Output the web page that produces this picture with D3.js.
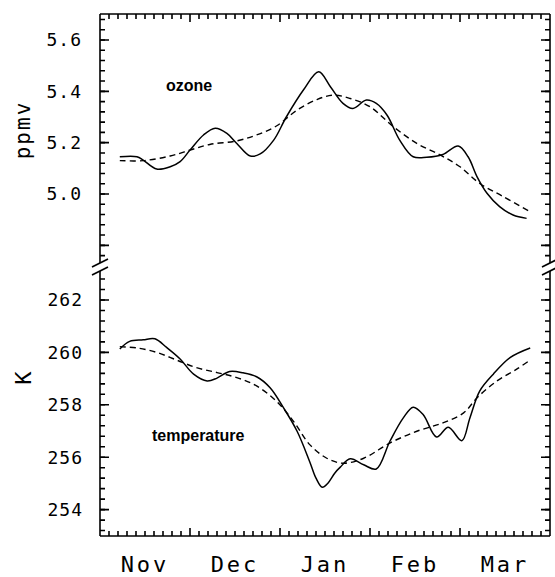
<!DOCTYPE html>
<html>
<head>
<meta charset="utf-8">
<script src="https://cdn.jsdelivr.net/npm/d3@7"></script>
<style>
  html, body { margin: 0; padding: 0; background: #fff; }
  svg { display: block; }
</style>
</head>
<body>
<script>
// ---------------- data ----------------
const months = ["Nov", "Dec", "Jan", "Feb", "Mar"];
const ozoneTicks = [5.0, 5.2, 5.4, 5.6];
const tempTicks = [254, 256, 258, 260, 262];

// x positions in month units (0 = 1 Nov, 5 = end of Mar)
const ozoneSolidT = [0.22,0.41,0.48,0.63,0.78,0.89,1.0,1.15,1.28,1.41,1.52,1.67,1.78,1.93,2.07,2.26,2.43,2.56,2.70,2.81,2.96,3.07,3.19,3.33,3.48,3.63,3.81,3.98,4.09,4.19,4.30,4.44,4.59,4.74];
const ozoneSolid  = [5.145,5.145,5.132,5.097,5.106,5.126,5.171,5.23,5.256,5.236,5.197,5.148,5.156,5.21,5.30,5.405,5.476,5.418,5.353,5.333,5.366,5.353,5.307,5.21,5.145,5.143,5.154,5.187,5.145,5.067,5.003,4.951,4.918,4.905];

const ozoneFitT = [0.22,0.48,0.78,1.0,1.22,1.52,1.74,1.96,2.19,2.41,2.59,2.78,3.0,3.26,3.52,3.78,4.0,4.22,4.48,4.78];
const ozoneFit  = [5.13,5.13,5.148,5.171,5.193,5.207,5.23,5.265,5.327,5.368,5.385,5.372,5.34,5.262,5.197,5.152,5.106,5.041,4.99,4.931];

const tempSolidT = [0.22,0.33,0.48,0.61,0.74,0.89,1.04,1.19,1.30,1.44,1.59,1.74,1.89,2.04,2.19,2.33,2.40,2.47,2.53,2.61,2.67,2.78,2.93,3.07,3.22,3.37,3.48,3.59,3.74,3.87,4.02,4.11,4.22,4.37,4.56,4.78];
const tempSolid  = [260.13,260.42,260.48,260.52,260.19,259.75,259.17,258.91,259.02,259.27,259.22,259.07,258.65,257.88,256.99,255.83,255.2,254.85,255.0,255.4,255.62,255.94,255.71,255.55,256.6,257.5,257.91,257.63,256.77,257.14,256.63,257.5,258.53,259.17,259.81,260.17];

const tempFitT = [0.22,0.41,0.63,0.85,1.07,1.30,1.52,1.74,1.96,2.15,2.33,2.52,2.70,2.93,3.22,3.52,3.81,4.04,4.19,4.41,4.63,4.78];
const tempFit  = [260.22,260.17,260.0,259.71,259.42,259.23,259.04,258.72,258.14,257.37,256.48,255.96,255.77,255.96,256.54,256.99,257.31,257.69,258.27,258.91,259.36,259.71];

// ---------------- layout ----------------
const W = 555, H = 577;
const L = 100, R = 550, T = 14, B = 536;
const breakTop = 263, breakBot = 271;

const svg = d3.select("body").append("svg").attr("width", W).attr("height", H);

const x = d3.scaleLinear().domain([0, 5]).range([L, R]);
const yO = d3.scaleLinear().domain([5.0, 5.6]).range([194, 40]);
const yT = d3.scaleLinear().domain([254, 262]).range([509.6, 300]);

const monoFont = "'DejaVu Sans Mono', 'Liberation Mono', monospace";
const sansFont = "'Liberation Sans', Arial, Helvetica, sans-serif";

// frame lines (with break gap on the sides)
const frame = svg.append("g").attr("stroke", "#000").attr("stroke-width", 1.6).attr("fill", "none");
frame.append("line").attr("x1", L).attr("x2", R).attr("y1", T).attr("y2", T);
frame.append("line").attr("x1", L).attr("x2", R).attr("y1", B).attr("y2", B);
frame.append("line").attr("x1", L).attr("x2", L).attr("y1", T).attr("y2", breakTop);
frame.append("line").attr("x1", L).attr("x2", L).attr("y1", breakBot).attr("y2", B);
frame.append("line").attr("x1", R).attr("x2", R).attr("y1", T).attr("y2", breakTop);
frame.append("line").attr("x1", R).attr("x2", R).attr("y1", breakBot).attr("y2", B);
// break slashes
[L, R].forEach(cx => {
  [breakTop, breakBot].forEach(cy => {
    frame.append("line")
      .attr("x1", cx - 8).attr("y1", cy + 4)
      .attr("x2", cx + 8).attr("y2", cy - 4);
  });
});

// ---------------- ticks ----------------
const tickG = svg.append("g").attr("stroke", "#000").attr("stroke-width", 1.6).attr("fill", "none");

// x: minor every 0.1 month, major at month boundaries
const xMinor = d3.range(1, 50).filter(i => i % 10 !== 0).map(i => i / 10);
const xMajor = [1, 2, 3, 4];

function xTickPath(vals, len) {
  const d = vals.map(v => {
    const px = x(v);
    return `M${px},${B}V${B - len}M${px},${T}V${T + len}`;
  }).join("");
  tickG.append("path").attr("d", d);
}
xTickPath(xMinor, 5);
xTickPath(xMajor, 8);

// y: ozone minor every 0.04, temperature minor every 0.4
const ozMinor = d3.range(119, 143).map(i => +(i * 0.04).toFixed(2))
  .filter(v => yO(v) > T + 2 && yO(v) < breakTop - 6);
const ozMajor = [4.8, 5.0, 5.2, 5.4, 5.6];
const tMinor = d3.range(633, 660).map(i => +(i * 0.4).toFixed(1))
  .filter(v => yT(v) < B - 2 && yT(v) > breakBot + 6);
const tMajor = [254, 256, 258, 260, 262];

function yTickPath(scale, vals, len) {
  const d = vals.map(v => {
    const py = scale(v);
    return `M${L},${py}H${L + len}M${R},${py}H${R - len}`;
  }).join("");
  tickG.append("path").attr("d", d);
}
yTickPath(yO, ozMinor, 5);
yTickPath(yO, ozMajor, 9);
yTickPath(yT, tMinor, 5);
yTickPath(yT, tMajor, 9);

// y tick labels
svg.append("g").selectAll("text").data(ozoneTicks).join("text")
  .attr("x", 82).attr("y", d => yO(d)).attr("dy", "0.36em")
  .attr("text-anchor", "end")
  .attr("font-family", monoFont).attr("font-size", 18).attr("letter-spacing", 1)
  .text(d => d3.format(".1f")(d));
svg.append("g").selectAll("text").data(tempTicks).join("text")
  .attr("x", 83).attr("y", d => yT(d)).attr("dy", "0.36em")
  .attr("text-anchor", "end")
  .attr("font-family", monoFont).attr("font-size", 18).attr("letter-spacing", 1)
  .text(d => d3.format("d")(d));

// month labels centred in each month
svg.append("g").selectAll("text").data(months).join("text")
  .attr("x", (d, i) => x(i + 0.5))
  .attr("y", 572)
  .attr("text-anchor", "middle")
  .attr("font-family", monoFont)
  .attr("font-size", 22)
  .attr("letter-spacing", 3)
  .text(d => d);

// axis titles
svg.append("text")
  .attr("transform", "translate(30,130) rotate(-90)")
  .attr("text-anchor", "middle")
  .attr("font-family", monoFont).attr("font-size", 21).attr("letter-spacing", 2)
  .text("ppmv");
svg.append("text")
  .attr("transform", "translate(31,378) rotate(-90)")
  .attr("text-anchor", "middle")
  .attr("font-family", monoFont).attr("font-size", 22)
  .text("K");

// ---------------- curves ----------------
const lineO = d3.line().x(d => x(d[0])).y(d => yO(d[1])).curve(d3.curveCatmullRom.alpha(0.5));
const lineT = d3.line().x(d => x(d[0])).y(d => yT(d[1])).curve(d3.curveCatmullRom.alpha(0.5));

const curves = svg.append("g").attr("fill", "none").attr("stroke", "#000");
curves.append("path").datum(d3.zip(ozoneSolidT, ozoneSolid)).attr("d", lineO).attr("stroke-width", 1.5);
curves.append("path").datum(d3.zip(ozoneFitT, ozoneFit)).attr("d", lineO).attr("stroke-width", 1.4).attr("stroke-dasharray", "6,4");
curves.append("path").datum(d3.zip(tempSolidT, tempSolid)).attr("d", lineT).attr("stroke-width", 1.5);
curves.append("path").datum(d3.zip(tempFitT, tempFit)).attr("d", lineT).attr("stroke-width", 1.4).attr("stroke-dasharray", "6,4");

// series labels
svg.append("text").attr("x", 166).attr("y", 91)
  .attr("font-family", sansFont).attr("font-weight", "bold").attr("font-size", 16)
  .text("ozone");
svg.append("text").attr("x", 152).attr("y", 441)
  .attr("font-family", sansFont).attr("font-weight", "bold").attr("font-size", 16)
  .text("temperature");
</script>
</body>
</html>
